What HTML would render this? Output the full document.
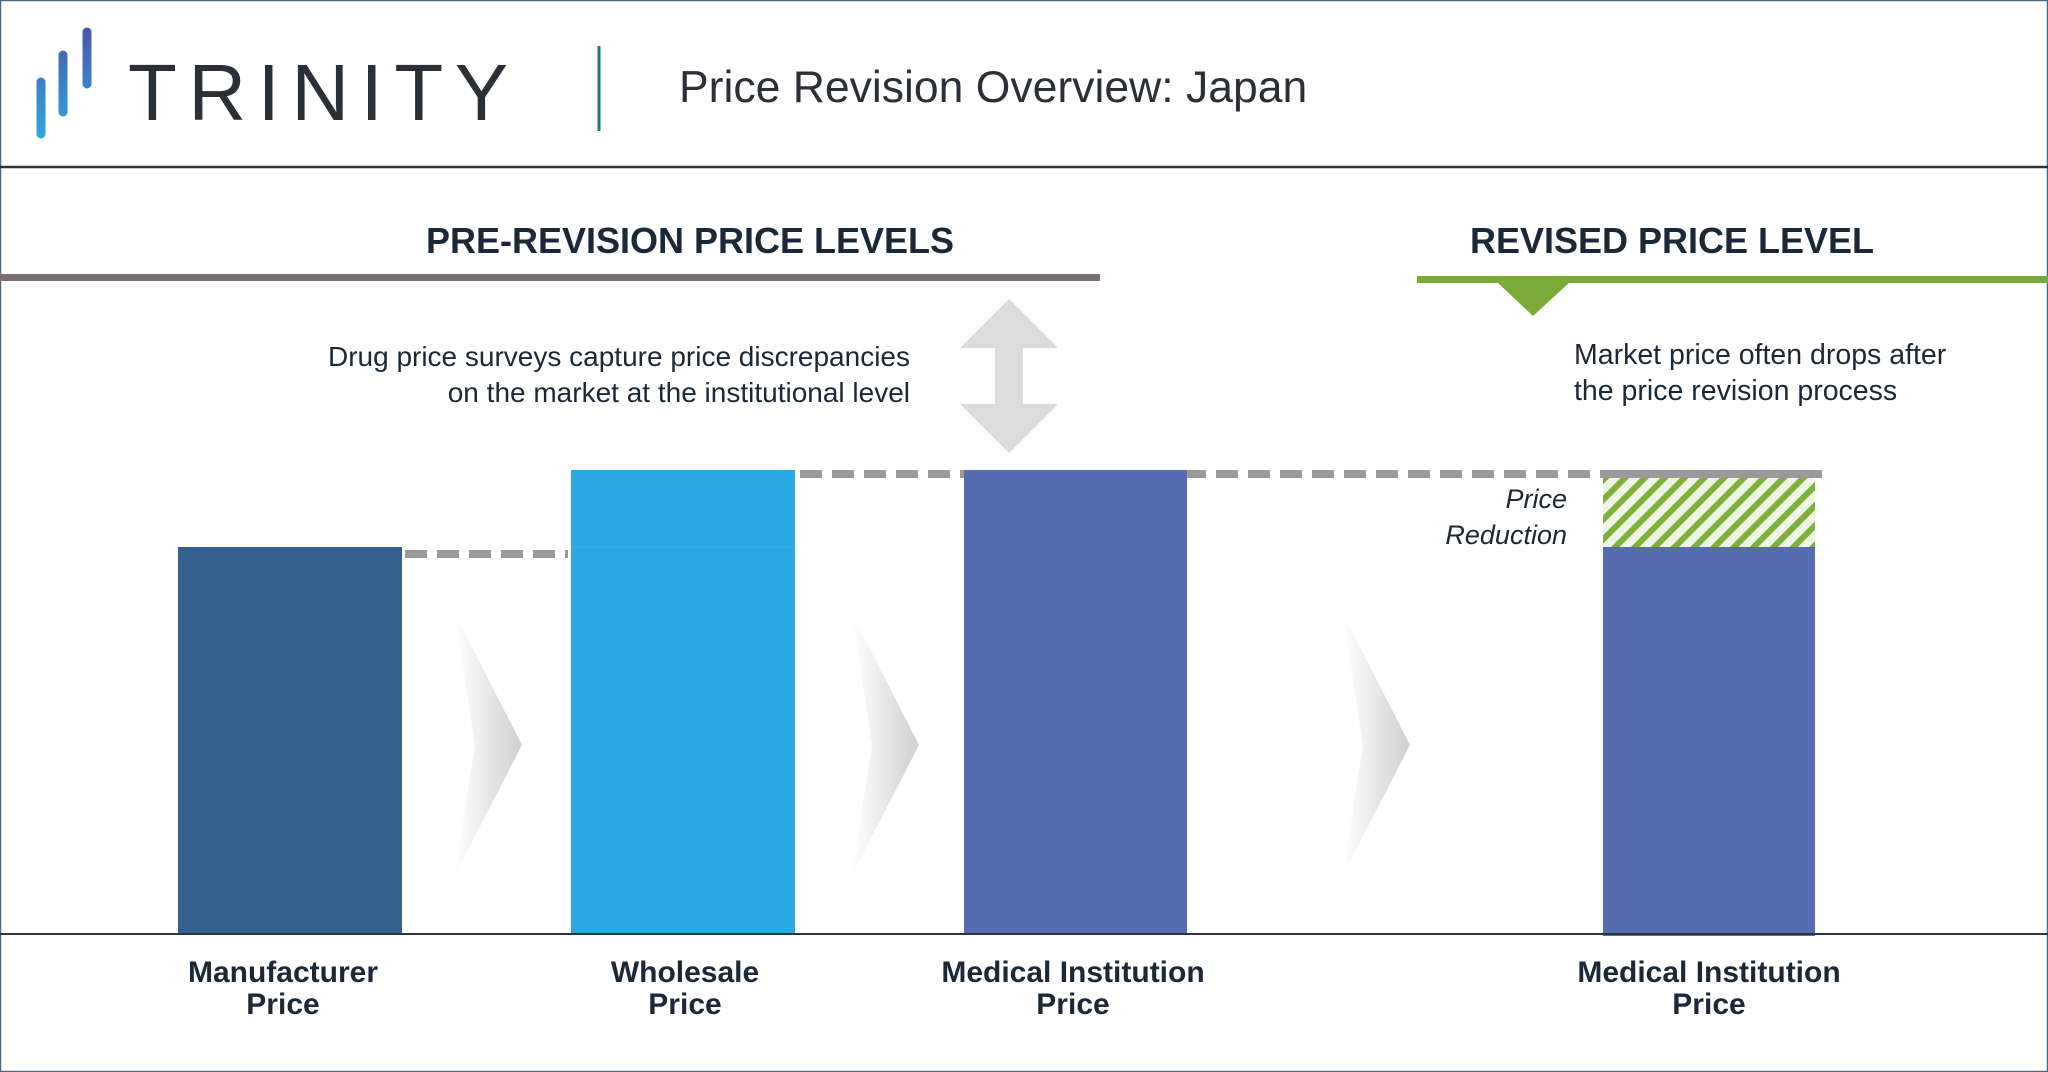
<!DOCTYPE html>
<html><head><meta charset="utf-8"><style>
html,body{margin:0;padding:0;background:#fff;}
svg{display:block;}
</style></head><body>
<svg width="2048" height="1072" viewBox="0 0 2048 1072" xmlns="http://www.w3.org/2000/svg" font-family="Liberation Sans, sans-serif">
<defs>
<linearGradient id="chev" x1="0" y1="0" x2="1" y2="0">
<stop offset="0" stop-color="#ffffff"/><stop offset="1" stop-color="#cfcfcf"/>
</linearGradient>
<linearGradient id="logo" gradientUnits="userSpaceOnUse" x1="0" y1="138" x2="0" y2="26">
<stop offset="0" stop-color="#2fa8e0"/><stop offset="1" stop-color="#4a55a8"/>
</linearGradient>
<pattern id="hatch" width="14" height="14" patternUnits="userSpaceOnUse" patternTransform="rotate(45)">
<rect width="14" height="14" fill="#eef5e2"/>
<rect x="0" y="0" width="6" height="14" fill="#7fb03a"/>
</pattern>
</defs>
<rect x="0.5" y="0.5" width="2047" height="1071" fill="#fff" stroke="#4a6a85" stroke-width="1.5"/>
<!-- logo -->
<g stroke="url(#logo)" stroke-width="9" stroke-linecap="round">
<line x1="41" y1="82" x2="41" y2="134"/>
<line x1="63" y1="55" x2="63" y2="112"/>
<line x1="87" y1="32" x2="87" y2="84"/>
</g>
<text x="128" y="120" font-size="80" fill="#2b2f36" letter-spacing="11.5">TRINITY</text>
<line x1="599" y1="46" x2="599" y2="131" stroke="#1f7a70" stroke-width="3"/>
<text x="679" y="102" font-size="44.5" fill="#2b2f36">Price Revision Overview: Japan</text>
<line x1="0" y1="167" x2="2048" y2="167" stroke="#2b3440" stroke-width="2.5"/>
<!-- section headers -->
<text x="690" y="253" font-size="36" font-weight="bold" fill="#1b2838" text-anchor="middle">PRE-REVISION PRICE LEVELS</text>
<rect x="0" y="274" width="1100" height="7" fill="#7a7070"/>
<text x="1672" y="253" font-size="36" font-weight="bold" fill="#1b2838" text-anchor="middle">REVISED PRICE LEVEL</text>
<rect x="1417" y="276" width="631" height="7" fill="#7aab38"/>
<polygon points="1497,282 1570,282 1533,316" fill="#7aab38"/>
<!-- double arrow -->
<polygon points="1009,299 1058,348 1023,348 1023,404 1058,404 1009,453 960,404 995,404 995,348 960,348" fill="#dcdcdc"/>
<text font-size="28" fill="#1b2838" text-anchor="end"><tspan x="910" y="366">Drug price surveys capture price discrepancies</tspan><tspan x="910" y="402">on the market at the institutional level</tspan></text>
<text font-size="28.5" fill="#1b2838"><tspan x="1574" y="364">Market price often drops after</tspan><tspan x="1574" y="400">the price revision process</tspan></text>
<!-- dashed lines -->
<line x1="405" y1="554" x2="568" y2="554" stroke="#9a9a9a" stroke-width="8" stroke-dasharray="22 10"/>
<line x1="800" y1="474" x2="1822" y2="474" stroke="#9a9a9a" stroke-width="8" stroke-dasharray="22 10"/>
<!-- chevrons -->
<polygon points="455,614 522,745 455,875 475,745" fill="url(#chev)"/>
<polygon points="852,614 919,745 852,875 872,745" fill="url(#chev)"/>
<polygon points="1343,614 1410,745 1343,875 1363,745" fill="url(#chev)"/>
<!-- bars -->
<rect x="178" y="547" width="224" height="387" fill="#35618f"/>
<rect x="571" y="470" width="224" height="464" fill="#29a9e1"/>
<line x1="571" y1="547" x2="795" y2="547" stroke="#3bb3e6" stroke-width="1"/>
<rect x="964" y="470" width="223" height="464" fill="#556cb0"/>
<rect x="1603" y="478" width="212" height="69" fill="url(#hatch)"/>
<rect x="1603" y="547" width="212" height="389" fill="#556cb0"/>
<line x1="1603" y1="474" x2="1822" y2="474" stroke="#9a9a9a" stroke-width="8" stroke-dasharray="22 10" stroke-dashoffset="-10"/>
<text font-size="27" font-style="italic" fill="#1b2838" text-anchor="end"><tspan x="1567" y="508">Price</tspan><tspan x="1567" y="544">Reduction</tspan></text>
<line x1="0" y1="934" x2="2048" y2="934" stroke="#2b3440" stroke-width="2"/>
<!-- labels -->
<g font-size="30" font-weight="bold" fill="#1b2838" text-anchor="middle">
<text x="283" y="982">Manufacturer</text><text x="283" y="1014">Price</text>
<text x="685" y="982">Wholesale</text><text x="685" y="1014">Price</text>
<text x="1073" y="982">Medical Institution</text><text x="1073" y="1014">Price</text>
<text x="1709" y="982">Medical Institution</text><text x="1709" y="1014">Price</text>
</g>
</svg>
</body></html>
